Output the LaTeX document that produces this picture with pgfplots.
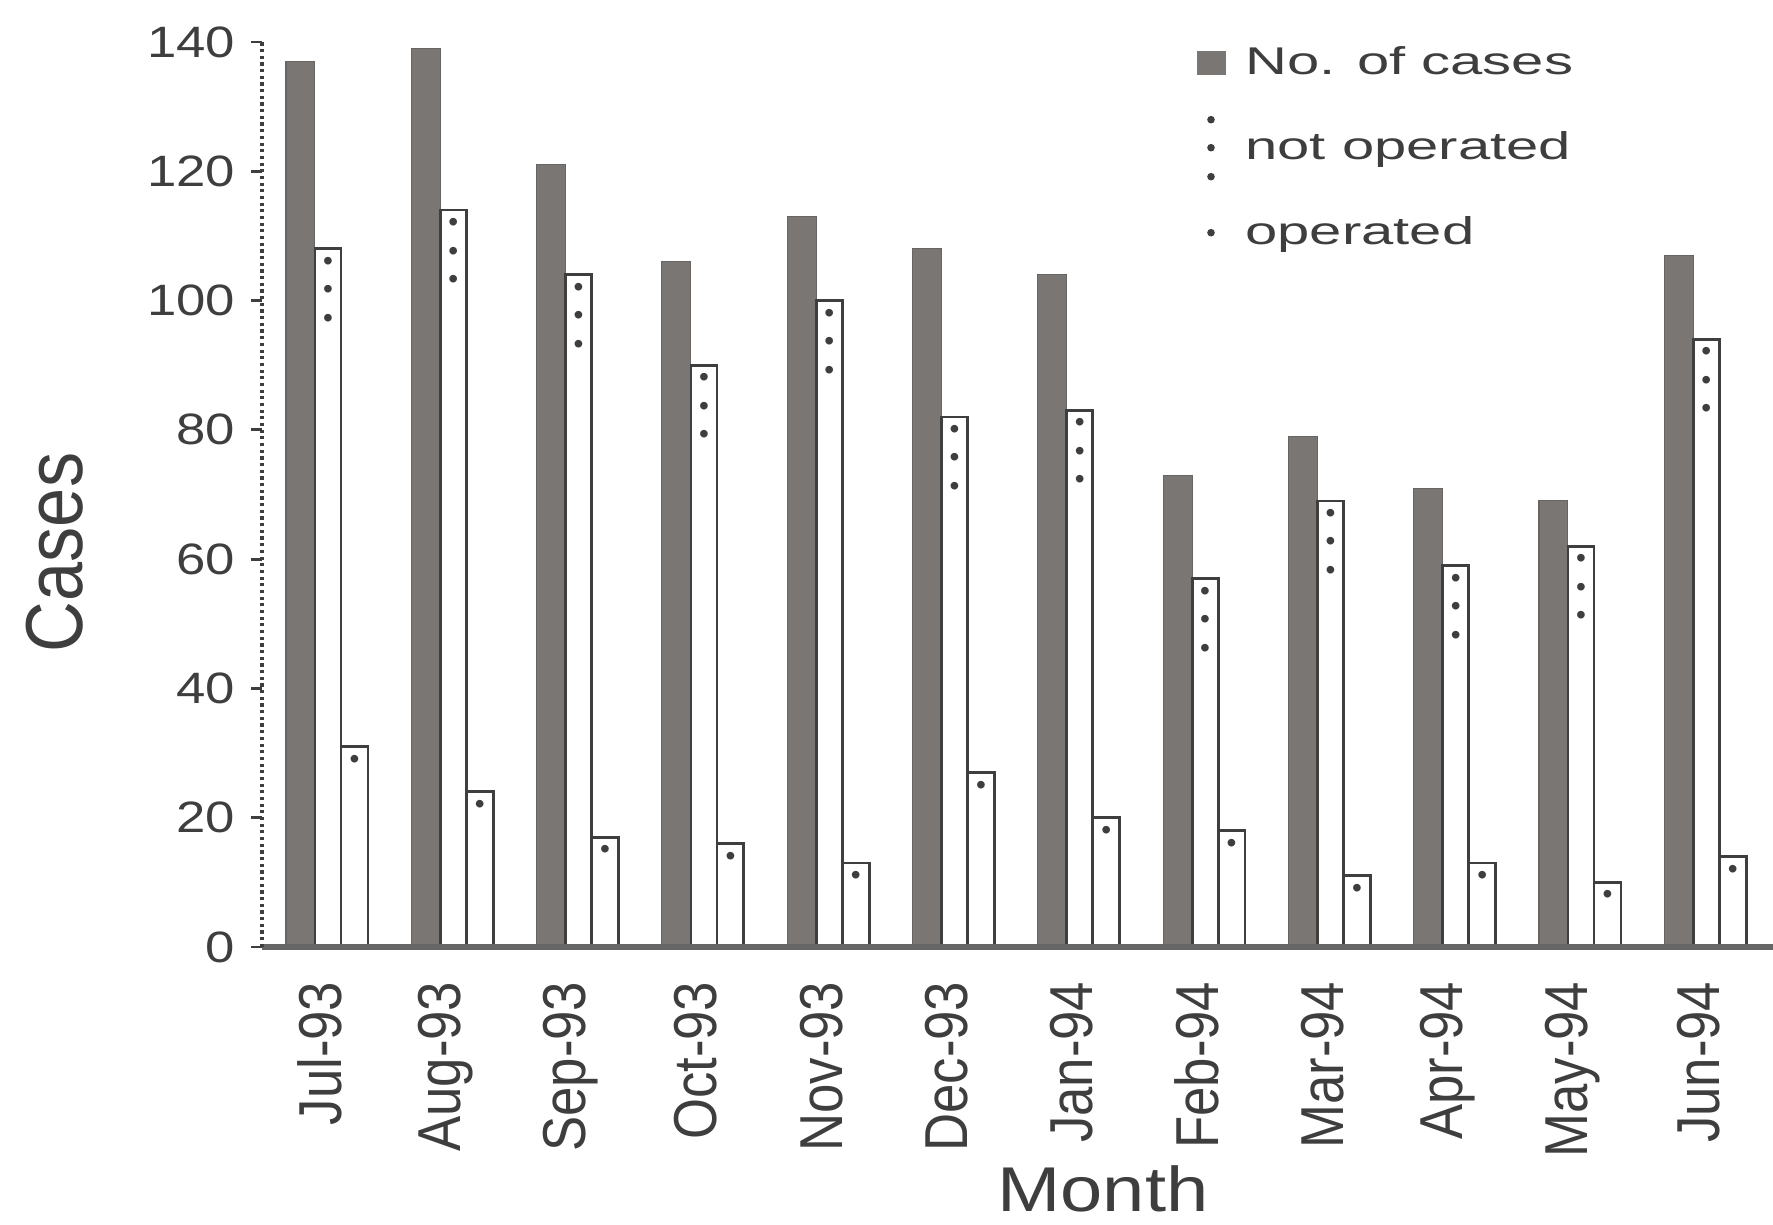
\documentclass[border=0pt]{standalone}
\usepackage{pgfplots}
\pgfplotsset{compat=1.18}
\usepackage{fontspec}
\usepackage{graphicx}
\setmainfont{Liberation Sans}
\newfontfamily\wfont[FakeStretch=1.2]{Liberation Sans}
\newfontfamily\lfont[FakeStretch=1.5]{Liberation Sans}
\usetikzlibrary{calc}
\definecolor{bargray}{RGB}{122,118,115}
\definecolor{ink}{RGB}{62,62,62}
\newcommand{\threedots}{\vbox{\fontsize{8}{8.1}\selectfont\hbox{\textbullet}\hbox{\textbullet}\hbox{\textbullet}}}
\newcommand{\onedot}{\hbox{\fontsize{8}{8}\selectfont\textbullet}}
\newcommand{\sv}[1]{\scalebox{1}[1.15]{#1}}

\begin{document}
\begin{tikzpicture}
\begin{axis}[
  scale only axis, width=151.1mm, height=90.5mm,
  xmin=-0.463, xmax=11.596, ymin=0, ymax=140,
  axis x line=bottom, axis y line=left, axis line style={-},
  x axis line style={line width=1.6pt, color=black!60},
  y axis line style={densely dotted, line width=0.9pt, color=ink},
  axis on top,
  xtick={0,...,11},
  xticklabels={\sv{Jul-93},\sv{Aug-93},\sv{Sep-93},\sv{Oct-93},\sv{Nov-93},\sv{Dec-93},\sv{Jan-94},\sv{Feb-94},\sv{Mar-94},\sv{Apr-94},\sv{May-94},\sv{Jun-94}},
  x tick style={draw=none},
  xticklabel style={font=\fontsize{15}{17}\selectfont, text=ink, yshift=-2.3mm, rotate=90, anchor=east, inner sep=0pt},
  ytick={0,20,...,140},
  y tick style={line width=0.8pt, color=ink},
  tick align=outside, major tick length=1.1mm,
  yticklabel style={font=\wfont\fontsize{12.5}{15}\selectfont, text=ink, inner sep=0pt, xshift=-1.5mm},
  /pgf/number format/assume math mode=true,
  every axis y label/.style={at={(axis description cs:-0.1191,0.436)}, rotate=90, anchor=base, inner sep=0pt, font=\fontsize{20}{22}\selectfont, text=ink},
  every axis x label/.style={at={(axis description cs:0.5566,-0.2928)}, anchor=base, inner sep=0pt, font=\wfont\fontsize{18}{20}\selectfont, text=ink},
  ylabel={\sv{Cases}},
  xlabel={Month},
  legend style={at={(axis description cs:0.618,1)}, anchor=north west, draw=none, fill=none, inner sep=0pt,
    font=\lfont\fontsize{11}{13}\selectfont, text=ink, row sep=4.5mm, nodes={inner sep=0pt},
    /tikz/every odd column/.style={column sep=2mm}},
  legend cell align=left,
]
\addplot[ybar, bar width=0.231, bar shift=-0.156, fill=bargray, draw=bargray!85!black, line width=0.3pt,
  legend image code/.code={\path[draw=none,fill=none] (0,-2mm) rectangle (2.9mm,2mm); \fill[bargray,draw=none] (0,-1.2mm) rectangle (2.9mm,1.2mm);}]
  coordinates {(0,137)(1,139)(2,121)(3,106)(4,113)(5,108)(6,104)(7,73)(8,79)(9,71)(10,69)(11,107)};
\addlegendentry{No. of cases}
\addplot[ybar, bar width=0.2075, bar shift=0.064, fill=white, draw=ink, line width=0.8pt,
  nodes near coords={\threedots}, nodes near coords align={below},
  every node near coord/.append style={inner sep=0pt, xshift=0.80mm, yshift=-0.7mm, text=ink},
  legend image code/.code={\path[draw=none,fill=none] (0,-2mm) rectangle (2.9mm,2mm);
    \fill[ink,draw=none,overlay] (1.45mm,2.8mm) circle (0.38mm); \fill[ink,draw=none,overlay] (1.45mm,0mm) circle (0.38mm); \fill[ink,draw=none,overlay] (1.45mm,-2.9mm) circle (0.38mm);}]
  coordinates {(0,108)(1,114)(2,104)(3,90)(4,100)(5,82)(6,83)(7,57)(8,69)(9,59)(10,62)(11,94)};
\addlegendentry{not operated}
\addplot[ybar, bar width=0.215, bar shift=0.275, fill=white, draw=ink, line width=0.8pt,
  nodes near coords={\onedot}, nodes near coords align={below},
  every node near coord/.append style={inner sep=0pt, xshift=3.45mm, yshift=-0.7mm, text=ink},
  legend image code/.code={\path[draw=none,fill=none] (0,-2mm) rectangle (2.9mm,2mm); \fill[ink,draw=none] (1.45mm,0mm) circle (0.38mm);}]
  coordinates {(0,31)(1,24)(2,17)(3,16)(4,13)(5,27)(6,20)(7,18)(8,11)(9,13)(10,10)(11,14)};
\addlegendentry{operated}
\end{axis}
\pgfresetboundingbox
\path[use as bounding box] ($(current axis.south west)+(-26.2mm,-27.7mm)$) rectangle ($(current axis.north east)+(0,4.2mm)$);
\end{tikzpicture}
\end{document}
